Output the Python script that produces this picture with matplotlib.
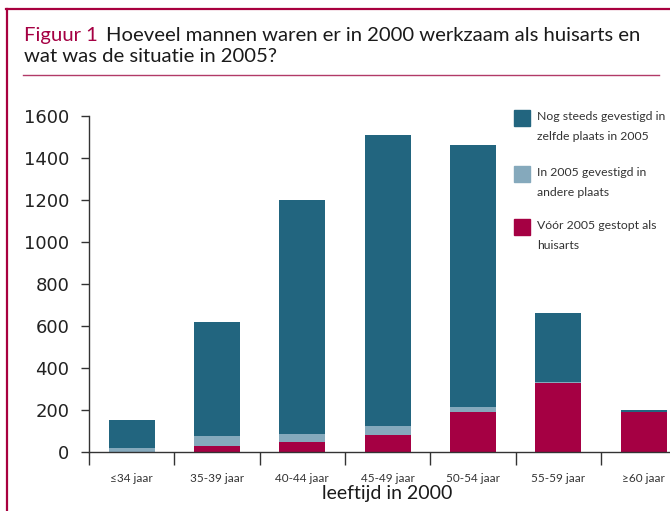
import matplotlib
matplotlib.use("Agg")
import matplotlib.pyplot as plt
from matplotlib.patches import Rectangle
from matplotlib.lines import Line2D
import numpy as np

categories = ["≤34 jaar", "35-39 jaar", "40-44 jaar", "45-49 jaar", "50-54 jaar", "55-59 jaar", "≥60 jaar"]
gestopt = [0, 29, 48, 81, 190, 329, 190]          # Vóór 2005 gestopt als huisarts
andere_plaats = [19, 47, 38, 43, 24, 3, 0]        # In 2005 gevestigd in andere plaats
zelfde_plaats = [133, 543, 1114, 1386, 1248, 330, 10]  # Nog steeds gevestigd in zelfde plaats
y_ticks = [0, 200, 400, 600, 800, 1000, 1200, 1400, 1600]
series_labels = ["Nog steeds gevestigd in\nzelfde plaats in 2005",
                 "In 2005 gevestigd in\nandere plaats",
                 "Vóór 2005 gestopt als\nhuisarts"]

DARK = "#22657F"
LIGHT = "#85A9BC"
RED = "#A50043"
FRAME = "#A8003F"
FONT = ["Lato", "DejaVu Sans"]

W, H = 670, 511
fig = plt.figure(figsize=(W / 100, H / 100), dpi=100)
fig.patch.set_facecolor("white")

def fx(px):
    return px / W

def fy(py):
    return 1 - py / H

# frame lines
fig.add_artist(Line2D([fx(7), fx(7)], [fy(9), 0], color=FRAME, lw=1.6, transform=fig.transFigure))
fig.add_artist(Line2D([fx(6.2), 1], [fy(9), fy(9)], color=FRAME, lw=1.6, transform=fig.transFigure))
fig.add_artist(Line2D([fx(23), fx(659)], [fy(75), fy(75)], color="#B23A68", lw=1.0, transform=fig.transFigure))

# title
t1 = fig.text(fx(24), fy(41), "Figuur 1", color=RED, fontsize=14.6, family=FONT, va="baseline")
fig.canvas.draw()
r = fig.canvas.get_renderer()
bb = t1.get_window_extent(renderer=r)
fig.text(bb.x1 / W + fx(8), fy(41), "Hoeveel mannen waren er in 2000 werkzaam als huisarts en",
         color="#1a1a1a", fontsize=14.6, family=FONT, va="baseline")
fig.text(fx(24), fy(62), "wat was de situatie in 2005?", color="#1a1a1a", fontsize=14.6,
         family=FONT, va="baseline")

# axes
spacing = 85.33
left_px = 89
right_px = left_px + spacing * 7
ax = fig.add_axes([fx(left_px), 1 - 452 / H, (right_px - left_px) / W, (452 - 116) / H])
x = np.arange(len(categories))
bw = 0.54
ax.bar(x, gestopt, width=bw, color=RED, linewidth=0)
ax.bar(x, andere_plaats, width=bw, bottom=gestopt, color=LIGHT, linewidth=0)
bottom2 = np.array(gestopt) + np.array(andere_plaats)
ax.bar(x, zelfde_plaats, width=bw, bottom=bottom2, color=DARK, linewidth=0)

ax.set_xlim(-0.5, len(categories) - 0.5)
ax.set_ylim(0, 1600)
for s in ["top", "right"]:
    ax.spines[s].set_visible(False)
for s in ["left", "bottom"]:
    ax.spines[s].set_color("#333333")
    ax.spines[s].set_linewidth(1.0)

ax.set_yticks(y_ticks)
ax.set_yticklabels([str(v) for v in y_ticks], fontsize=13, color="#222222", family=["DejaVu Sans"])
ax.tick_params(axis="y", direction="out", length=6, width=1.0, color="#333333", pad=8)

ax.set_xticks(np.arange(len(categories)) - 0.5)
ax.set_xticklabels([])
ax.tick_params(axis="x", which="major", direction="out", length=9.5, width=1.0, color="#333333")
ax.set_xticks(x, minor=True)
ax.set_xticklabels(categories, minor=True, fontsize=8.5, color="#333333", family=FONT)
ax.tick_params(axis="x", which="minor", length=0, pad=15)

fig.text(fx(387), fy(494), "leeftijd in 2000", ha="center", va="center", fontsize=14,
         color="#1a1a1a", family=FONT)

# legend (manual)
colors = [DARK, LIGHT, RED]
tops = [110, 166, 219]
for c, t, lab in zip(colors, tops, series_labels):
    fig.add_artist(Rectangle((fx(514), fy(t + 16)), 16 / W, 16 / H, color=c,
                             transform=fig.transFigure))
    fig.text(fx(537), fy(t + 1), lab, fontsize=8.8, color="#333333", family=FONT,
             va="top", ha="left", linespacing=1.95)

fig.savefig("out.png", dpi=100)
